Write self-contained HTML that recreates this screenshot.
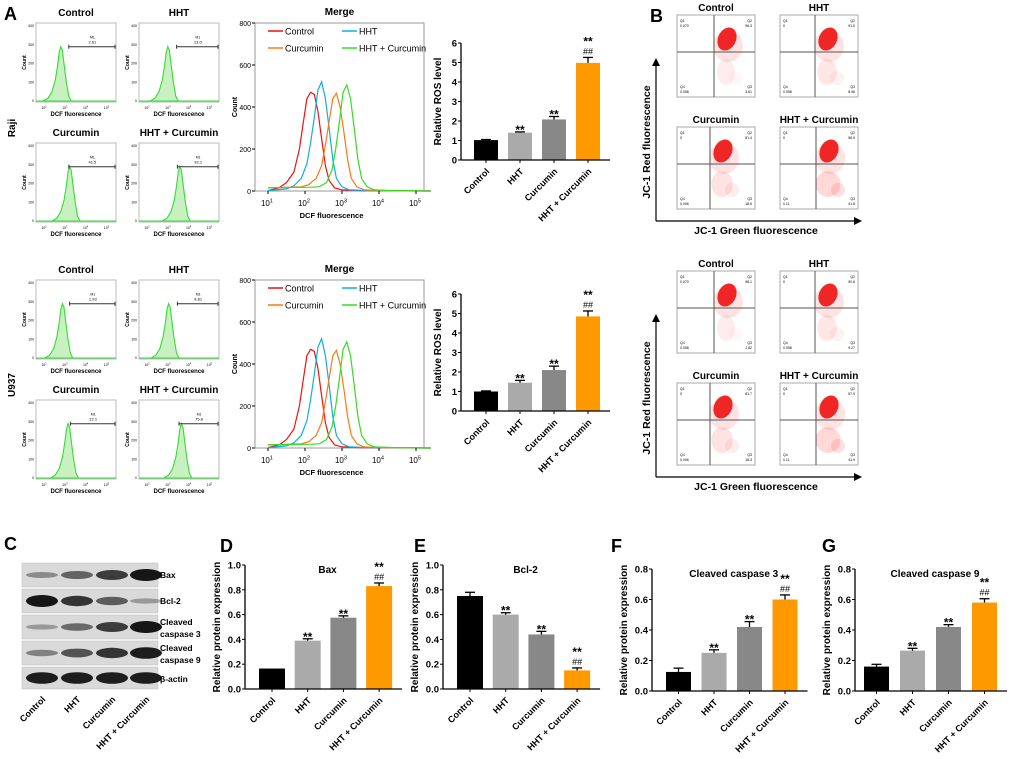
<!DOCTYPE html>
<html><head><meta charset="utf-8">
<style>
html,body{margin:0;padding:0;background:#fff;}
svg{display:block;font-family:"Liberation Sans",Arial,sans-serif;}
</style></head>
<body>
<svg id="fig" width="1020" height="759" viewBox="0 0 1020 759" xmlns="http://www.w3.org/2000/svg"></svg>
<script>
// ---------- DATA ----------
const groups = ["Control","HHT","Curcumin","HHT + Curcumin"];
const rosRajiVals = [1.02,1.4,2.08,4.98];
const rosRajiErr = [0.03,0.04,0.15,0.28];
const rosU937Vals = [1.0,1.45,2.1,4.85];
const rosU937Err = [0.03,0.12,0.2,0.28];
const baxVals = [0.165,0.39,0.575,0.83];
const baxErr = [0,0.015,0.015,0.025];
const bcl2Vals = [0.75,0.6,0.44,0.15];
const bcl2Err = [0.03,0.015,0.025,0.02];
const casp3Vals = [0.125,0.25,0.42,0.6];
const casp3Err = [0.025,0.02,0.035,0.03];
const casp9Vals = [0.16,0.265,0.42,0.58];
const casp9Err = [0.015,0.015,0.015,0.025];
const rosTicks = [0,1,2,3,4,5,6];
const protTicks10 = [0.0,0.2,0.4,0.6,0.8,1.0];
const protTicks08 = [0.0,0.2,0.4,0.6,0.8];
const annStars = ["","**","**","**"];
const annHash = ["","","","##"];
// merge histograms (log10 fluorescence, count)
const mergeLogX = [1.0,1.3,1.5,1.7,1.85,1.95,2.05,2.15,2.25,2.35,2.45,2.55,2.65,2.8,3.0,3.5,5.4];
const mergeRed = [2,15,40,90,200,320,440,470,460,380,250,120,50,15,5,2,0];
const mergeBlueShift = 0.2;
const mergeBlue = [2,10,25,60,130,230,350,480,520,440,300,150,60,20,5,2,0];
const mergeOrangeShift = 0.6;
const mergeOrange = [15,20,30,60,120,220,330,440,465,400,280,150,60,20,5,2,0];
const mergeGreenShift = 0.88;
const mergeGreen = [15,18,20,40,100,200,330,470,505,440,300,150,60,20,5,2,0];
const mergeYTicks = [0,200,400,600,800];
const mergeXTicks = [1,2,3,4,5];
// small histograms
const histOffsets = [-0.22,-0.16,-0.11,-0.07,-0.04,-0.02,0,0.02,0.04,0.07,0.1,0.13];
const histCounts = [0,15,50,110,190,260,290,270,200,100,25,0];
const rajiPeaks = [0.31,0.36,0.42,0.51];
const u937Peaks = [0.33,0.37,0.40,0.53];
const rajiM1 = ["2.61","13.0","41.5","92.1"];
const u937M1 = ["1.93","8.81","22.1","75.8"];
const rajiGate = [0.41,0.47,0.41,0.48];
const u937Gate = [0.42,0.48,0.43,0.50];
// JC-1 quadrants
const jcUpperQ2 = ["96.3","91.0","81.4","56.9"];
const jcUpperQ3 = ["3.61","8.96","18.6","41.8"];
const jcLowerQ2 = ["98.1","90.6","81.7","57.9"];
const jcLowerQ3 = ["1.82","9.27","18.3","41.9"];
const jcRedSpread = [0.15,0.3,0.45,0.75];
// western blot band intensities (0..1)
const blotRows = ["Bax","Bcl-2","Cleaved\ncaspase 3","Cleaved\ncaspase 9","β-actin"];
const blotBax = [0.25,0.5,0.75,1.0];
const blotBcl2 = [1.0,0.8,0.55,0.15];
const blotC3 = [0.15,0.45,0.75,1.0];
const blotC9 = [0.3,0.6,0.8,0.95];
const blotActin = [0.95,0.95,0.95,0.95];

// ---------- HELPERS ----------
const svg = document.getElementById('fig');
const NS = "http://www.w3.org/2000/svg";
function mk(tag, attrs, parent){
  const e = document.createElementNS(NS, tag);
  for (const k in attrs) e.setAttribute(k, attrs[k]);
  (parent||svg).appendChild(e);
  return e;
}
function txt(x,y,s,size,opts,parent){
  opts = opts||{};
  const t = mk('text',{x:x,y:y,'font-size':size,'font-weight':opts.w||'bold','text-anchor':opts.a||'middle',fill:opts.fill||'#000'},parent);
  if (opts.rot!==undefined) t.setAttribute('transform','rotate('+opts.rot+' '+x+' '+y+')');
  t.textContent = s;
  return t;
}
function sup10(x,y,p,size,parent){
  const t = mk('text',{x:x,y:y,'font-size':size,'text-anchor':'middle',fill:'#000'},parent);
  t.textContent = '10';
  const s = mk('tspan',{dy:-size*0.45,'font-size':size*0.7},t);
  s.textContent = p;
  return t;
}
const barColors = ["#000000","#aaaaaa","#888888","#ff9900"];

// ---------- BAR CHART ----------
function barChart(name, ax, y0, yTop, vmax, ticks, vals, errs, firstOff, bw, step, title, ytitle, ytx, labelFmt){
  const g = mk('g',{});
  
  
  const yS = v => y0 - (v/vmax)*(y0-yTop);
  const xS = i => ax + firstOff + i*step;
  const xEnd = xS(vals.length-1) + bw + 10;
  for (let i=0;i<vals.length;i++){
    const h = y0 - yS(vals[i]);
    const r = mk('rect',{x:xS(i),y:yS(vals[i]),width:bw,height:h,fill:barColors[i]},g);
    
    
    const cx = xS(i)+bw/2;
    if (errs[i]>0){
      mk('line',{x1:cx,x2:cx,y1:yS(vals[i]),y2:yS(vals[i]+errs[i]),stroke:'#000','stroke-width':1.3},g);
      mk('line',{x1:cx-5,x2:cx+5,y1:yS(vals[i]+errs[i]),y2:yS(vals[i]+errs[i]),stroke:'#000','stroke-width':1.3},g);
    }
    const topY = yS(vals[i]+errs[i]);
    if (annHash[i]){
      txt(cx, topY-3, annHash[i], 9, {w:'normal'}, g);
      txt(cx, topY-12, annStars[i], 12, {}, g);
    } else if (annStars[i]){
      txt(cx, topY+2, annStars[i], 12, {}, g);
    }
    mk('line',{x1:cx,x2:cx,y1:y0,y2:y0+3,stroke:'#000','stroke-width':1},g);
    const lt = txt(cx+4, y0+12, groups[i], 9, {a:'end',rot:-45}, g);
    
    
  }
  mk('line',{x1:ax,x2:ax,y1:yTop,y2:y0,stroke:'#000','stroke-width':1.3},g);
  mk('line',{x1:ax,x2:xEnd,y1:y0,y2:y0,stroke:'#000','stroke-width':1.3},g);
  for (const t of ticks){
    mk('line',{x1:ax-3,x2:ax,y1:yS(t),y2:yS(t),stroke:'#000','stroke-width':1},g);
    txt(ax-4, yS(t)+3.5, labelFmt(t), 9.5, {a:'end'}, g);
  }
  if (title){
    const tt = txt((ax+xEnd)/2+4, yTop+8, title, 10, {}, g);
    
    
  }
  const yt = txt(ytx, (y0+yTop)/2, ytitle, 10, {rot:-90}, g);
  
  
}

// ---------- SMALL HISTOGRAM ----------
function smallHist(name, bx, by, bw, bh, peak, gate, m1, title){
  const g = mk('g',{});
  
  
  txt(bx+bw/2, by-7, title, 10, {}, g);
  mk('rect',{x:bx,y:by,width:bw,height:bh,fill:'#fff',stroke:'#bbb','stroke-width':1},g);
  const yS = c => by+bh-1 - c/400*(bh-4);
  const pts = [];
  for (let i=0;i<histOffsets.length;i++){
    pts.push((bx + (peak+histOffsets[i])*bw).toFixed(1)+','+yS(histCounts[i]).toFixed(1));
  }
  mk('path',{d:'M'+pts.join(' L')+' Z',fill:'#c9f0c0',stroke:'#33dd33','stroke-width':1.1},g);
  mk('line',{x1:bx,x2:bx+bw,y1:by+bh-1,y2:by+bh-1,stroke:'#33dd33','stroke-width':1},g);
  const gy = by+bh*0.3;
  mk('line',{x1:bx+gate*bw,x2:bx+bw-1,y1:gy,y2:gy,stroke:'#333','stroke-width':1},g);
  mk('line',{x1:bx+gate*bw,x2:bx+gate*bw,y1:gy-2,y2:gy+2,stroke:'#333','stroke-width':1},g);
  mk('line',{x1:bx+bw-1,x2:bx+bw-1,y1:gy-2,y2:gy+2,stroke:'#333','stroke-width':1},g);
  const mx = bx+(gate+1)/2*bw;
  txt(mx, gy-8, 'M1', 3.5, {w:'normal'}, g);
  txt(mx, gy-3, m1, 4, {w:'normal'}, g);
  ['0','100','200','300','400'].forEach((s,i)=>{ txt(bx-2, by+bh-1-i*(bh-4)/4+1, s, 3.5, {a:'end',w:'normal'}, g); });
  [2,3,4,5].forEach((p,i)=>{ sup10(bx+8+i*bw*0.26, by+bh+7, p, 3.5, g); });
  txt(bx-10, by+bh/2, 'Count', 5, {rot:-90}, g);
  txt(bx+bw/2, by+bh+14, 'DCF fluorescence', 6, {}, g);
}

// ---------- MERGE HISTOGRAM ----------
function mergePlot(name, dy){
  const g = mk('g',{});
  
  
  const bx=255, by=23+dy, bw=169, bh=168;
  const xS = lx => 268 + (lx-1)*37;
  const yS = c => by+bh - c/800*bh;
  txt(bx+bw/2, by-8, 'Merge', 10, {}, g);
  mk('rect',{x:bx,y:by,width:bw,height:bh,fill:'#fff',stroke:'#999','stroke-width':1},g);
  const series = [[mergeRed,0,'#ee1111','Control'],[mergeBlue,mergeBlueShift,'#11aaee','HHT'],[mergeOrange,mergeOrangeShift,'#ff7711','Curcumin'],[mergeGreen,mergeGreenShift,'#33dd22','HHT + Curcumin']];
  for (const [arr,sh,col,lab] of series){
    const pts = [];
    for (let i=0;i<arr.length;i++){
      let lx = Math.min(mergeLogX[i]+(i<arr.length-1?sh:0), 5.4);
      if (i===0) lx = mergeLogX[0];
      pts.push(xS(lx).toFixed(1)+','+yS(arr[i]).toFixed(1));
    }
    const p = mk('polyline',{points:pts.join(' '),fill:'none',stroke:col,'stroke-width':1.2},g);
    
    
  }
  series.forEach((s,i)=>{
    const lx = i%2===0 ? 268 : 342, ly = by+8+Math.floor(i/2)*17;
    const le = mk('g',{},g);
    
    
    mk('line',{x1:lx,x2:lx+15,y1:ly,y2:ly,stroke:s[2],'stroke-width':1.5},le);
    txt(lx+17, ly+3.5, s[3], 9, {a:'start',w:'normal'}, le);
  });
  for (const t of mergeYTicks){
    mk('line',{x1:bx-3,x2:bx,y1:yS(t),y2:yS(t),stroke:'#000'},g);
    txt(bx-4, yS(t)+3, String(t), 7, {a:'end',w:'normal'}, g);
  }
  for (const t of mergeXTicks){
    mk('line',{x1:xS(t),x2:xS(t),y1:by+bh,y2:by+bh+3,stroke:'#000'},g);
    sup10(xS(t)-1, by+bh+15, t, 8, g);
  }
  txt(bx-18, by+bh/2, 'Count', 7, {rot:-90}, g);
  txt(bx+bw/2-8, by+bh+27, 'DCF fluorescence', 7.5, {}, g);
}

// ---------- JC-1 scatter ----------
function jcPlot(name, bx, by, qx, spread, q2, q3, title, q1v, q4v){
  const g = mk('g',{});
  
  
  const bw=78, bh=82;
  txt(bx+bw/2, by-4, title, 10, {}, g);
  mk('rect',{x:bx,y:by,width:bw,height:bh,fill:'#fff',stroke:'#aaa','stroke-width':1},g);
  const vx = bx+qx, hy = by+37;
  mk('ellipse',{cx:vx+12,cy:hy+20,rx:8+spread*6,ry:13,fill:'#ff5555',opacity:0.08+spread*0.2},g);
  mk('ellipse',{cx:vx+22,cy:hy+26,rx:7,ry:7,fill:'#ff5555',opacity:spread*0.25},g);
  mk('ellipse',{cx:vx+14,cy:hy-6,rx:15,ry:16,fill:'#ff6666',opacity:0.18},g);
  mk('ellipse',{cx:vx+13,cy:hy-13,rx:9,ry:12,fill:'#ee1111',opacity:0.9,transform:'rotate(25 '+(vx+13)+' '+(hy-13)+')'},g);
  mk('line',{x1:vx,x2:vx,y1:by,y2:by+bh,stroke:'#555','stroke-width':1},g);
  mk('line',{x1:bx,x2:bx+bw,y1:hy,y2:hy,stroke:'#555','stroke-width':1},g);
  txt(bx+3,by+7,'Q1',3.5,{a:'start',w:'normal'},g);
  txt(bx+3,by+12,q1v,3.5,{a:'start',w:'normal'},g);
  txt(bx+bw-3,by+7,'Q2',3.5,{a:'end',w:'normal'},g);
  txt(bx+bw-3,by+12,q2,3.5,{a:'end',w:'normal'},g);
  txt(bx+3,by+bh-9,'Q4',3.5,{a:'start',w:'normal'},g);
  txt(bx+3,by+bh-4,q4v,3.5,{a:'start',w:'normal'},g);
  txt(bx+bw-3,by+bh-9,'Q3',3.5,{a:'end',w:'normal'},g);
  txt(bx+bw-3,by+bh-4,q3,3.5,{a:'end',w:'normal'},g);
}
function jcBlock(name, dy, Q2, Q3){
  const pos = [[677,15,37],[780,15,35],[677,127,33],[780,127,36]];
  const q1 = ["0.070","0","0","0"], q4 = ["0.058","0.058","0.006","0.11"];
  pos.forEach((p,i)=>{ jcPlot(name+'-'+groups[i].toLowerCase().replace(/[^a-z]+/g,'-'), p[0], p[1]+dy, p[2], jcRedSpread[i], Q2[i], Q3[i], groups[i], q1[i], q4[i]); });
  mk('line',{x1:656,x2:656,y1:221+dy,y2:64+dy,stroke:'#000','stroke-width':1.2});
  mk('path',{d:'M652,66 L656,58 L660,66 Z',transform:'translate(0,'+dy+')'});
  mk('line',{x1:656,x2:856,y1:221+dy,y2:221+dy,stroke:'#000','stroke-width':1.2});
  mk('path',{d:'M854,217 L862,221 L854,225 Z',transform:'translate(0,'+dy+')'});
  const a = txt(650, 142+dy, 'JC-1 Red fluorescence', 10.5, {rot:-90});
  
  
  const b = txt(756, 234+dy, 'JC-1 Green fluorescence', 10.5);
  
  
}

// ---------- BUILD ----------
const panelLetters = [['A',4,20],['B',650,22],['C',4,550],['D',220,552],['E',414,552],['F',611,552],['G',822,552]];
panelLetters.forEach(p=>{
  const t = txt(p[1],p[2],p[0],18,{a:'start'});
  
  
});

const histPos = [[36,23],[139,23],[36,143],[139,143]];
histPos.forEach((p,i)=>{
  smallHist('raji-hist-'+i, p[0], p[1], 80, 79, rajiPeaks[i], rajiGate[i], rajiM1[i], groups[i]);
  smallHist('u937-hist-'+i, p[0], p[1]+257, 80, 79, u937Peaks[i], u937Gate[i], u937M1[i], groups[i]);
});
const rl = txt(15, 128, 'Raji', 10, {rot:-90});


const ul = txt(15, 385, 'U937', 10, {rot:-90});



mergePlot('raji-merge-histogram', 0);
mergePlot('u937-merge-histogram', 257);

barChart('raji-ros-chart', 461, 160, 43, 6, rosTicks, rosRajiVals, rosRajiErr, 13, 24, 34, null, 'Relative ROS level', 441, t=>String(t));
barChart('u937-ros-chart', 461, 411, 294, 6, rosTicks, rosU937Vals, rosU937Err, 13, 24, 34, null, 'Relative ROS level', 441, t=>String(t));

jcBlock('raji-jc1', 0, jcUpperQ2, jcUpperQ3);
jcBlock('u937-jc1', 256, jcLowerQ2, jcLowerQ3);

barChart('bax-chart', 245, 689, 565, 1.0, protTicks10, baxVals, baxErr, 14, 26, 35.7, 'Bax', 'Relative protein expression', 220, t=>t.toFixed(1));
barChart('bcl2-chart', 443, 689, 565, 1.0, protTicks10, bcl2Vals, bcl2Err, 14, 26, 35.7, 'Bcl-2', 'Relative protein expression', 418, t=>t.toFixed(1));
barChart('caspase3-chart', 652, 691, 569, 0.8, protTicks08, casp3Vals, casp3Err, 14, 25, 35.5, 'Cleaved caspase 3', 'Relative protein expression', 627, t=>t.toFixed(1));
barChart('caspase9-chart', 855, 691, 569, 0.8, protTicks08, casp9Vals, casp9Err, 9, 25, 36, 'Cleaved caspase 9', 'Relative protein expression', 830, t=>t.toFixed(1));

// western blot
(function(){
  const g = mk('g',{});
  
  
  const rowsData = [blotBax, blotBcl2, blotC3, blotC9, blotActin];
  const rowY = [563,589,615,641,667], rowH = [24,24,24,24,22];
  const laneX = [42,77,112,146];
  rowsData.forEach((row,r)=>{
    mk('rect',{x:22,y:rowY[r],width:136,height:rowH[r],fill:'#d9d9d9',stroke:'#bbb','stroke-width':0.5},g);
    row.forEach((v,l)=>{
      const b = mk('ellipse',{cx:laneX[l],cy:rowY[r]+rowH[r]/2,rx:16,ry:2+v*4,fill:'#111',opacity:0.2+v*0.78},g);
      
      
    });
    const lines = blotRows[r].split('\n');
    lines.forEach((s,k)=>{ txt(160, rowY[r]+(lines.length>1?10+k*12:15), s, 8.5, {a:'start'}, g); });
  });
  laneX.forEach((x,i)=>{ txt(x+4, 700, groups[i], 9, {a:'end',rot:-45}, g); });
})();
</script>
</body></html>
